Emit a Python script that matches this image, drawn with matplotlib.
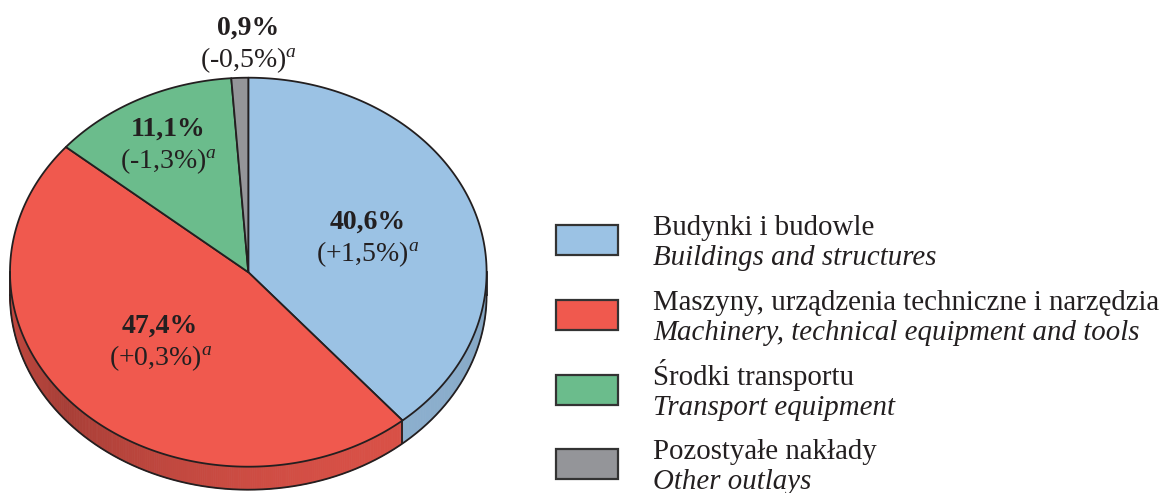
import numpy as np
import matplotlib
matplotlib.use("Agg")
import matplotlib.pyplot as plt
from matplotlib.patches import Polygon, Rectangle
from matplotlib.collections import PolyCollection
from matplotlib.colors import to_rgb

plt.rcParams['font.family'] = ['Liberation Serif', 'DejaVu Serif']
plt.rcParams['mathtext.fontset'] = 'custom'
plt.rcParams['mathtext.rm'] = 'Liberation Serif'
plt.rcParams['mathtext.it'] = 'Liberation Serif:italic'

# ---- data ----
categories_pl = ["Budynki i budowle",
                 "Maszyny, urządzenia techniczne i narzędzia",
                 "Środki transportu",
                 "Pozostyałe nakłady"]
categories_en = ["Buildings and structures",
                 "Machinery, technical equipment and tools",
                 "Transport equipment",
                 "Other outlays"]
shares = [40.6, 47.4, 11.1, 0.9]
share_labels = ["40,6%", "47,4%", "11,1%", "0,9%"]
change_labels = ["(+1,5%)", "(+0,3%)", "(-1,3%)", "(-0,5%)"]
colors = ["#9BC2E4", "#F0594E", "#6BBC8C", "#949599"]

# ---- layout / style ----
W, H = 1170, 493
cx, cy, rx, ry, depth = 248.3, 272.2, 238.3, 194.5, 23
view_skew = 0.79           # 3-D view distortion of angles
label_r = [0.52, 0.50, 0.74, 1.18]
label_dx = [3, -4, 0, 10]
edge = "#231f20"
txt = "#231f20"
FS = 20
LFS = 20.8

fig = plt.figure(figsize=(W / 100, H / 100), dpi=100)
ax = fig.add_axes([0, 0, 1, 1])
ax.set_xlim(0, W)
ax.set_ylim(H, 0)
ax.axis("off")


def warp(deg):
    r = np.radians(deg)
    return np.degrees(np.arctan2(view_skew * np.sin(r), np.cos(r)))


def pt(phi_deg, dy=0.0, scale=1.0):
    r = np.radians(phi_deg)
    return cx + scale * rx * np.cos(r), cy - scale * ry * np.sin(r) + dy


total = float(sum(shares))
cum = np.concatenate([[0.0], np.cumsum(shares)]) / total
true_b = 90.0 - 360.0 * cum
app_b = np.degrees(np.unwrap(np.radians(warp(true_b))))


# ---- side (visible for angles between -180 and 0) ----
def shade(phi):
    return 0.70 + 0.20 * abs(np.cos(np.radians(phi + 50)))


polys, fcols = [], []
for i in range(len(shares)):
    a0, a1 = app_b[i], app_b[i + 1]
    for off in (0, 360, -360):
        lo = max(min(a0, a1) + off, -180)
        hi = min(max(a0, a1) + off, 0)
        if hi > lo:
            phis = np.linspace(hi, lo, max(int((hi - lo) / 0.5), 2))
            base = np.array(to_rgb(colors[i]))
            for p1, p2 in zip(phis[:-1], phis[1:]):
                x1, y1 = pt(p1)
                x2, y2 = pt(p2)
                polys.append([(x1, y1), (x2, y2), (x2, y2 + depth), (x1, y1 + depth)])
                fcols.append(np.clip(base * shade((p1 + p2) / 2), 0, 1))
ax.add_collection(PolyCollection(polys, facecolors=fcols, edgecolors=fcols,
                                 linewidths=0.6, zorder=1))

# side outlines
phis = np.linspace(0, -180, 400)
bx, by = pt(phis, dy=depth)
ax.plot(bx, by, color=edge, lw=1.3, zorder=3)
for p in [0, -180] + [b for b in app_b if -180 < b < 0]:
    x0, y0 = pt(p)
    ax.plot([x0, x0], [y0, y0 + depth], color=edge, lw=1.3, zorder=3)

# ---- top face ----
for i in range(len(shares)):
    a0, a1 = app_b[i], app_b[i + 1]
    n = max(int(abs(a1 - a0) / 0.5), 3)
    ph = np.linspace(a0, a1, n)
    xs, ys = pt(ph)
    verts = [(cx, cy)] + list(zip(xs, ys))
    ax.add_patch(Polygon(verts, closed=True, facecolor=colors[i],
                         edgecolor=edge, lw=1.3, joinstyle="round", zorder=2))

# ---- labels ----
for i in range(len(shares)):
    mid = (app_b[i] + app_b[i + 1]) / 2
    lx, ly = pt(mid, scale=label_r[i])
    lx += label_dx[i]
    ax.text(lx, ly - 15, share_labels[i], ha="center", va="center",
            fontsize=FS, fontweight="bold", color=txt, zorder=5)
    ax.text(lx, ly + 17, change_labels[i] + r"$^{a}$", ha="center", va="center",
            fontsize=FS, color=txt, zorder=5)

# ---- legend ----
lx0, lw_, lh_ = 556, 62, 30
ly0, lstep = 240, 74.8
for i in range(len(shares)):
    yc = ly0 + i * lstep
    ax.add_patch(Rectangle((lx0, yc - lh_ / 2), lw_, lh_, facecolor=colors[i],
                           edgecolor="#333333", lw=1.6, zorder=4))
    ax.text(653, yc - 5, categories_pl[i], ha="left", va="baseline",
            fontsize=LFS, color=txt)
    ax.text(653, yc + 25, categories_en[i], ha="left", va="baseline",
            fontsize=LFS, style="italic", color=txt)

fig.savefig("out.png", dpi=100)
